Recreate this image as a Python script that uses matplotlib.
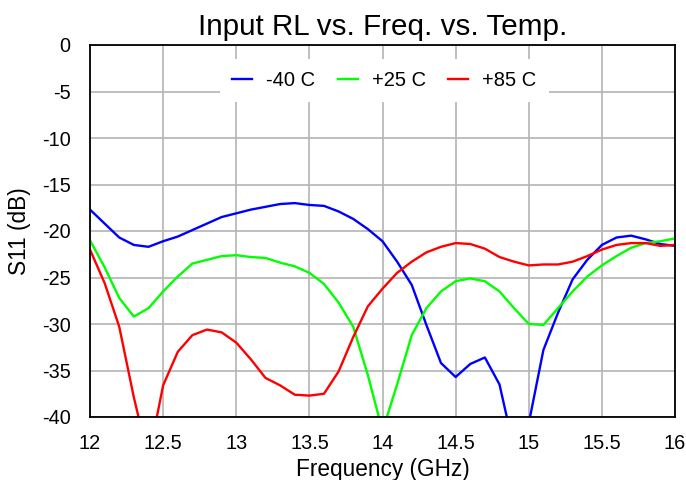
import numpy as np
import matplotlib
matplotlib.use("Agg")
import matplotlib.pyplot as plt

plt.rcParams['font.family'] = ['Liberation Sans', 'DejaVu Sans']
plt.rcParams['axes.unicode_minus'] = False

freq = [12.0, 12.1, 12.2, 12.3, 12.4, 12.5, 12.6, 12.7, 12.8, 12.9,
        13.0, 13.1, 13.2, 13.3, 13.4, 13.5, 13.6, 13.7, 13.8, 13.9,
        14.0, 14.1, 14.2, 14.3, 14.4, 14.5, 14.6, 14.7, 14.8, 14.9,
        15.0, 15.1, 15.2, 15.3, 15.4, 15.5, 15.6, 15.7, 15.8, 15.9, 16.0]

s11_m40 = [-17.7, -19.2, -20.7, -21.5, -21.7, -21.1, -20.6, -19.9, -19.2, -18.5,
           -18.1, -17.7, -17.4, -17.1, -17.0, -17.2, -17.3, -17.9, -18.7, -19.8,
           -21.1, -23.3, -25.8, -30.1, -34.2, -35.7, -34.3, -33.6, -36.5, -43.5,
           -40.7, -32.8, -28.8, -25.2, -23.1, -21.5, -20.7, -20.5, -20.9, -21.4, -21.6]

s11_p25 = [-21.0, -23.9, -27.2, -29.2, -28.3, -26.5, -24.9, -23.5, -23.1, -22.7,
           -22.6, -22.8, -22.9, -23.4, -23.8, -24.5, -25.7, -27.7, -30.3, -35.5,
           -41.5, -36.5, -31.2, -28.3, -26.5, -25.4, -25.1, -25.4, -26.5, -28.3,
           -30.0, -30.1, -28.3, -26.5, -24.9, -23.7, -22.7, -21.8, -21.3, -21.1, -20.8]

s11_p85 = [-22.0, -25.6, -30.3, -37.9, -44.5, -36.6, -33.0, -31.2, -30.6, -30.9,
           -32.0, -33.8, -35.8, -36.6, -37.6, -37.7, -37.5, -35.1, -31.4, -28.1,
           -26.2, -24.5, -23.3, -22.3, -21.7, -21.3, -21.4, -21.9, -22.8, -23.3,
           -23.7, -23.6, -23.6, -23.3, -22.7, -22.0, -21.5, -21.3, -21.3, -21.6, -21.5]

labels = ['-40 C', '+25 C', '+85 C']
colors = ['#0000ff', '#00ff00', '#ff0000']

fig = plt.figure(figsize=(6.86, 4.80), dpi=100)
ax = fig.add_axes([90/686, 1-417/480, 585/686, 372/480])

for ys, lab, col in zip([s11_m40, s11_p25, s11_p85], labels, colors):
    ax.plot(freq, ys, color=col, lw=1.7, label=lab)

ax.set_xlim(12, 16)
ax.set_ylim(-40, 0)
ax.set_xticks(np.arange(12, 16.01, 0.5))
ax.set_xticklabels(['12', '12.5', '13', '13.5', '14', '14.5', '15', '15.5', '16'])
ax.set_yticks(np.arange(-40, 0.1, 5))
ax.grid(True, color='#b4b4b4', lw=1.2)
ax.set_axisbelow(True)
ax.tick_params(axis='x', length=0, labelsize=14.3, pad=12)
ax.tick_params(axis='y', length=0, labelsize=14.3, pad=14)
for s in ax.spines.values():
    s.set_color('black')
    s.set_linewidth(1.3)

ax.set_title('Input RL vs. Freq. vs. Temp.', fontsize=21.3, pad=7)
ax.set_xlabel('Frequency (GHz)', fontsize=16.3, labelpad=4)
ax.set_ylabel('S11 (dB)', fontsize=16.3, labelpad=8)

leg = ax.legend(loc='center', bbox_to_anchor=(0.503, 0.905), ncol=3, frameon=True,
                fontsize=14.5, handlelength=1.0, columnspacing=1.1, handletextpad=0.7,
                borderpad=0.6, fancybox=False)
leg.get_frame().set_edgecolor('none')
leg.get_frame().set_facecolor('white')
leg.get_frame().set_alpha(1)

fig.savefig('out.png', dpi=100)
